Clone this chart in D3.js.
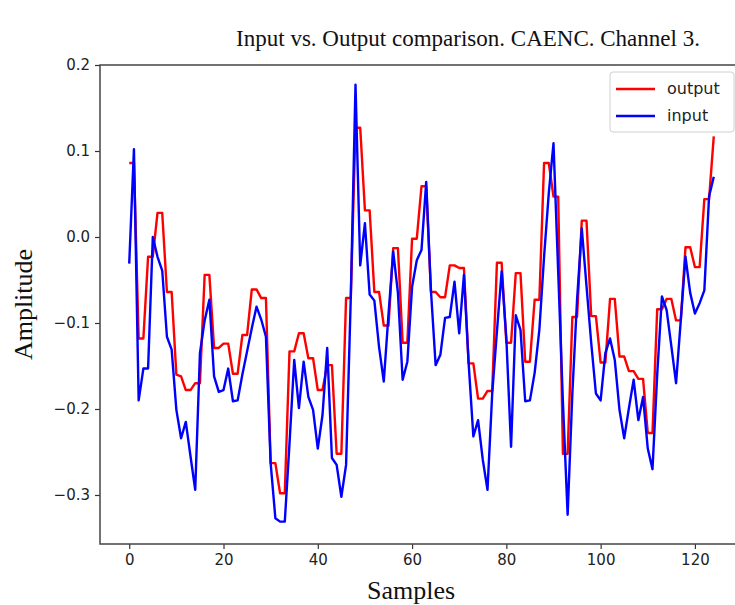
<!DOCTYPE html>
<html>
<head>
<meta charset="utf-8">
<script src="https://cdn.jsdelivr.net/npm/d3@7"></script>
<style>
  html, body { margin: 0; padding: 0; background: #fff; }
  svg { display: block; }
</style>
</head>
<body>
<svg id="chart" width="735" height="605"></svg>
<script>
const titleText = "Input vs. Output comparison. CAENC. Channel 3.";
const xLabel = "Samples";
const yLabel = "Amplitude";
const seriesNames = ["output", "input"];
const seriesColors = ["#ff0000", "#0000ff"];
const xTicks = [0, 20, 40, 60, 80, 100, 120];
const yTicks = [-0.3, -0.2, -0.1, 0.0, 0.1, 0.2];

const outputValues = [
  0.086, 0.086, -0.118, -0.118, -0.023, -0.023, 0.028, 0.028, -0.064, -0.064,
  -0.160, -0.162, -0.178, -0.178, -0.170, -0.170, -0.044, -0.044, -0.129, -0.129,
  -0.124, -0.124, -0.159, -0.159, -0.114, -0.114, -0.061, -0.061, -0.071, -0.071,
  -0.263, -0.263, -0.298, -0.298, -0.133, -0.133, -0.112, -0.112, -0.141, -0.141,
  -0.178, -0.178, -0.149, -0.149, -0.252, -0.252, -0.071, -0.071, 0.127, 0.127,
  0.031, 0.031, -0.064, -0.064, -0.103, -0.103, -0.013, -0.013, -0.123, -0.123,
  -0.002, -0.002, 0.059, 0.059, -0.064, -0.064, -0.070, -0.070, -0.033, -0.033,
  -0.036, -0.036, -0.147, -0.147, -0.188, -0.188, -0.179, -0.179, -0.030, -0.030,
  -0.123, -0.123, -0.042, -0.042, -0.145, -0.145, -0.073, -0.073, 0.086, 0.086,
  0.047, 0.047, -0.252, -0.252, -0.093, -0.093, 0.019, 0.019, -0.092, -0.092,
  -0.146, -0.146, -0.072, -0.072, -0.139, -0.139, -0.156, -0.156, -0.165, -0.165,
  -0.228, -0.228, -0.084, -0.084, -0.072, -0.072, -0.097, -0.097, -0.012, -0.012,
  -0.035, -0.035, 0.044, 0.044, 0.117
];

const inputValues = [
  -0.031, 0.102, -0.190, -0.153, -0.153, 0.000, -0.023, -0.039, -0.116, -0.131,
  -0.201, -0.234, -0.215, -0.255, -0.294, -0.135, -0.097, -0.073, -0.162, -0.180,
  -0.178, -0.153, -0.191, -0.190, -0.160, -0.133, -0.106, -0.081, -0.096, -0.116,
  -0.263, -0.327, -0.331, -0.331, -0.240, -0.143, -0.199, -0.145, -0.186, -0.201,
  -0.246, -0.207, -0.129, -0.257, -0.265, -0.302, -0.265, -0.070, 0.177, -0.033,
  0.016, -0.067, -0.074, -0.128, -0.168, -0.090, -0.017, -0.065, -0.166, -0.145,
  -0.058, -0.027, -0.015, 0.064, -0.062, -0.149, -0.137, -0.094, -0.093, -0.052,
  -0.112, -0.044, -0.147, -0.232, -0.213, -0.259, -0.294, -0.182, -0.110, -0.040,
  -0.118, -0.244, -0.091, -0.108, -0.191, -0.190, -0.158, -0.108, -0.023, 0.051,
  0.109, -0.041, -0.192, -0.323, -0.182, -0.073, 0.010, -0.057, -0.123, -0.182,
  -0.190, -0.135, -0.118, -0.143, -0.201, -0.234, -0.199, -0.166, -0.213, -0.186,
  -0.246, -0.270, -0.160, -0.069, -0.085, -0.127, -0.170, -0.097, -0.023, -0.065,
  -0.089, -0.077, -0.062, 0.047, 0.070
];

const svg = d3.select("#chart");
const plot = { left: 100, top: 65, right: 743, bottom: 544 };

const x = d3.scaleLinear().domain([-6.2, 130.2]).range([plot.left, plot.right]);
const y = d3.scaleLinear().domain([-0.357, 0.2]).range([plot.bottom, plot.top]);

svg.append("defs").append("clipPath").attr("id", "clip")
  .append("rect")
  .attr("x", plot.left).attr("y", plot.top)
  .attr("width", plot.right - plot.left).attr("height", plot.bottom - plot.top);

const line = d3.line().x((d, i) => x(i)).y(d => y(d));

const series = [outputValues, inputValues];
series.forEach((vals, k) => {
  svg.append("path")
    .datum(vals)
    .attr("clip-path", "url(#clip)")
    .attr("fill", "none")
    .attr("stroke", seriesColors[k])
    .attr("stroke-width", 2.4)
    .attr("stroke-linejoin", "round")
    .attr("d", line);
});

// axes
const tickFont = "DejaVu Sans, sans-serif";
const xAxis = svg.append("g")
  .attr("transform", `translate(0,${plot.bottom})`)
  .call(d3.axisBottom(x).tickValues(xTicks).tickFormat(d3.format("d")).tickSize(5).tickSizeOuter(0).tickPadding(5));
const yAxis = svg.append("g")
  .attr("transform", `translate(${plot.left},0)`)
  .call(d3.axisLeft(y).tickValues(yTicks).tickFormat(d3.format(".1f")).tickSize(5).tickSizeOuter(0).tickPadding(5));
[xAxis, yAxis].forEach(g => {
  g.select(".domain").remove();
  g.selectAll(".tick line").attr("stroke", "#333").attr("stroke-width", 1.2);
  g.selectAll(".tick text").attr("fill", "#222").style("font-family", tickFont).style("font-size", "15px");
});

// frame
svg.append("rect")
  .attr("x", plot.left).attr("y", plot.top)
  .attr("width", plot.right - plot.left).attr("height", plot.bottom - plot.top)
  .attr("fill", "none").attr("stroke", "#444").attr("stroke-width", 1.5);

// title and labels
const serif = "Liberation Serif, Times New Roman, serif";
svg.append("text")
  .attr("x", 468).attr("y", 46)
  .attr("text-anchor", "middle")
  .style("font-family", serif).style("font-size", "23px").attr("fill", "#111")
  .text(titleText);
svg.append("text")
  .attr("x", 411).attr("y", 599)
  .attr("text-anchor", "middle")
  .style("font-family", serif).style("font-size", "26px").attr("fill", "#111")
  .text(xLabel);
svg.append("text")
  .attr("transform", `translate(32,${(plot.top + plot.bottom) / 2}) rotate(-90)`)
  .attr("text-anchor", "middle")
  .style("font-family", serif).style("font-size", "26px").attr("fill", "#111")
  .text(yLabel);

// legend
const lg = svg.append("g").attr("transform", "translate(610,72)");
lg.append("rect")
  .attr("x", 0).attr("y", 0).attr("width", 124).attr("height", 60)
  .attr("rx", 3).attr("fill", "#fff").attr("fill-opacity", 0.85)
  .attr("stroke", "#d0d0d0").attr("stroke-width", 1);
seriesNames.forEach((name, k) => {
  const yy = 17 + k * 27;
  lg.append("line")
    .attr("x1", 6).attr("x2", 45).attr("y1", yy).attr("y2", yy)
    .attr("stroke", seriesColors[k]).attr("stroke-width", 2.4);
  lg.append("text")
    .attr("x", 57).attr("y", yy + 5)
    .style("font-family", tickFont).style("font-size", "16px").attr("fill", "#222")
    .text(name);
});
</script>
</body>
</html>
